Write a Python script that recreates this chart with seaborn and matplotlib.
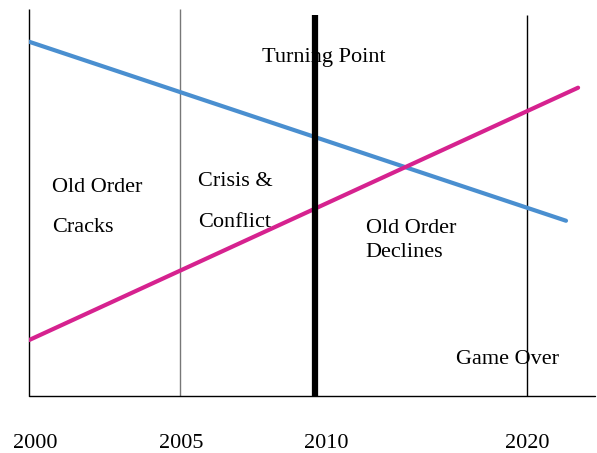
import matplotlib
matplotlib.use("Agg")
import matplotlib.pyplot as plt
import seaborn as sns
import pandas as pd

# timeline position (0 = 2000, one unit per year up to 2005, squeezed after)
blue_x = [0.0, 17.78]
blue_y = [93.2, 46.1]
pink_x = [0.0, 18.18]
pink_y = [14.7, 81.1]

year_labels = ["2000", "2005", "2010", "2020"]
year_pos = [0.2, 5.03, 9.83, 16.49]

phase_labels = ["Old Order\n\nCracks", "Crisis &\n\nConflict", "Old Order\nDeclines", "Game Over"]
phase_x = [0.76, 5.6, 11.15, 14.13]
phase_y = [49.6, 51.1, 40.9, 9.6]
phase_spacing = [1.1, 1.1, 1.42, 1.0]

turning_x = 9.47

df = pd.concat([
    pd.DataFrame({"x": blue_x, "y": blue_y, "series": "old"}),
    pd.DataFrame({"x": pink_x, "y": pink_y, "series": "new"}),
])

sns.set_style("white")
plt.rcParams["font.family"] = ["Liberation Serif", "DejaVu Serif"]
plt.rcParams["text.color"] = "black"
plt.rcParams["xtick.color"] = "black"

fig = plt.figure(figsize=(5.97, 4.53), dpi=100)
ax = fig.add_axes([29 / 597, 57 / 453, 566 / 597, 387 / 453])

sns.lineplot(data=df, x="x", y="y", hue="series",
             palette={"old": "#4a8fd0", "new": "#d6228f"},
             linewidth=3, legend=False, ax=ax, zorder=3)

ax.vlines(0, 0, 101.8, color="black", linewidth=1, zorder=2, clip_on=False)
ax.vlines(5.0, 0, 101.8, color="#777777", linewidth=1, zorder=2)
ax.vlines(16.49, 0, 100.3, color="black", linewidth=1, zorder=2)
ax.vlines(turning_x, 0, 100.3, color="black", linewidth=4.5, zorder=4)
ax.axhline(0, color="black", linewidth=1, zorder=2, clip_on=False)

ax.text(9.75, 89.0, "Turning Point", fontsize=16, ha="center", va="center", zorder=1)
for lab, x, y, ls in zip(phase_labels, phase_x, phase_y, phase_spacing):
    ax.text(x, y, lab, fontsize=16, ha="left", va="center", linespacing=ls)

ax.set_xlim(0, 18.74)
ax.set_ylim(0, 101.8)
ax.set_xticks(year_pos)
ax.set_xticklabels(year_labels, fontsize=16)
ax.tick_params(axis="x", length=0, pad=27, colors="black")
ax.set_yticks([])
ax.set_xlabel("")
ax.set_ylabel("")
for s in ax.spines.values():
    s.set_visible(False)

fig.savefig("out.png", dpi=100)
